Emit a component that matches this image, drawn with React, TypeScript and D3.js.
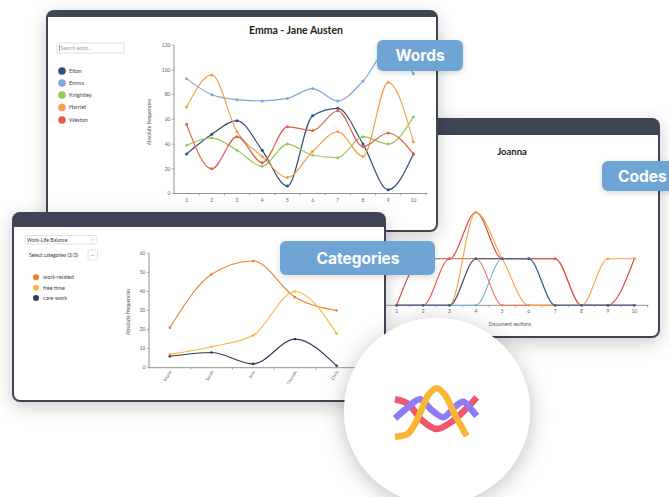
import React, { useEffect, useRef } from 'react';
import * as d3 from 'd3';

// Words window (Emma - Jane Austen)
const sections = ['1', '2', '3', '4', '5', '6', '7', '8', '9', '10'];
const wordNames = ['Elton', 'Emma', 'Knightley', 'Harriet', 'Weston'];
const wordColors = ['#2e4f80', '#7aaad9', '#9cc65b', '#f4a048', '#e0604b'];
const eltonCounts = [32, 48, 59, 35, 6, 63, 69, 40, 3, 32];
const emmaCounts = [93, 80, 76, 75, 77, 85, 75, 91, 116, 97];
const knightleyCounts = [39, 45, 35, 22, 40, 31, 29, 46, 40, 62];
const harrietCounts = [70, 96, 50, 30, 13, 34, 50, 30, 90, 42];
const westonCounts = [56, 20, 46, 25, 54, 51, 67, 38, 49, 32];
const wordTicks = [0, 20, 40, 60, 80, 100, 120];

// Categories window (Work-Life Balance)
const interviewees = ['Marie', 'Sarah', 'Jens', 'Thomas', 'Chris'];
const categoryNames = ['work-related', 'free time', 'care-work'];
const categoryColors = ['#f47c20', '#fdb43c', '#2e3e55'];
const workRelated = [21, 49, 56, 37, 30];
const freeTime = [7, 11, 17, 40, 18];
const careWork = [6, 8, 2, 15, 1];
const categoryTicks = [0, 10, 20, 30, 40, 50, 60];

// Codes window (Joanna), drawn back to front
const codeColors = ['#d9452f', '#e55a45', '#ec7a66', '#f6a23e', '#7ab0e0', '#3d5f91'];
const codeA = [0, 1, 1, 2, 1, 1, 1, 0, 0, 1];
const codeB = [0, 0, 1, 1, 1, 1, 1, 0, 0, 0];
const codeC = [0, 0, 0, 1, 0, 0, 0, 0, 0, 0];
const codeD = [0, 0, 0, 2, 1, 0, 0, 0, 1, 1];
const codeE = [0, 0, 0, 0, 1, 1, 0, 0, 0, 0];
const codeF = [0, 0, 0, 1, 1, 1, 0, 0, 0, 0];

const font = 'Lato, "Open Sans", sans-serif';
const labelFont = 'Inter, Roboto, sans-serif';
const frameColor = '#3f4456';
const tagColor = '#6ea5d5';

type G = d3.Selection<SVGGElement, unknown, null, undefined>;

function drawWindow(g: G, x: number, y: number, w: number, h: number, bar: number) {
  g.append('rect').attr('x', x).attr('y', y).attr('width', w).attr('height', h)
    .attr('rx', 8).attr('fill', frameColor).attr('filter', 'url(#winShadow)');
  g.append('rect').attr('x', x + 2).attr('y', y + bar).attr('width', w - 4).attr('height', h - bar - 2)
    .attr('rx', 6).attr('fill', '#fff');
  g.append('rect').attr('x', x + 2).attr('y', y + bar).attr('width', w - 4).attr('height', 10).attr('fill', '#fff');
}

function drawAxes(g: G, x: d3.ScaleBand<string>, y: d3.ScaleLinear<number, number>,
  ticks: number[], showY: boolean, rotate: boolean) {
  const [x0, x1] = x.range();
  const base = y(0);
  const ax = g.append('g').attr('font-family', font).attr('font-size', 5).attr('fill', '#666');
  ax.append('line').attr('x1', x0).attr('x2', x1 + 1).attr('y1', base).attr('y2', base)
    .attr('stroke', '#777').attr('stroke-width', 0.8);
  x.domain().forEach((d, i) => {
    const bx = x(d)!;
    if (i > 0) ax.append('line').attr('x1', bx).attr('x2', bx).attr('y1', base).attr('y2', base + 2)
      .attr('stroke', '#777').attr('stroke-width', 0.6);
    const cx = bx + x.bandwidth() / 2;
    if (rotate) {
      ax.append('text').attr('transform', `translate(${cx + 2},${base + 4}) rotate(-60)`)
        .attr('text-anchor', 'end').attr('font-size', 4.5).text(d);
    } else {
      ax.append('text').attr('x', cx).attr('y', base + 8).attr('text-anchor', 'middle').text(d);
    }
  });
  ax.append('line').attr('x1', x1).attr('x2', x1).attr('y1', base).attr('y2', base + 2)
    .attr('stroke', '#777').attr('stroke-width', 0.6);
  if (!showY) return;
  ax.append('line').attr('x1', x0).attr('x2', x0).attr('y1', base).attr('y2', y(ticks[ticks.length - 1]))
    .attr('stroke', '#777').attr('stroke-width', 0.8);
  ticks.forEach(t => {
    ax.append('line').attr('x1', x0 - 2).attr('x2', x0).attr('y1', y(t)).attr('y2', y(t))
      .attr('stroke', '#777').attr('stroke-width', 0.6);
    ax.append('text').attr('x', x0 - 3.5).attr('y', y(t) + 1.7).attr('text-anchor', 'end').text(t);
  });
}

function drawSeries(g: G, x: d3.ScaleBand<string>, y: d3.ScaleLinear<number, number>,
  series: number[][], colors: string[], width: number, dotR: number) {
  const half = x.bandwidth() / 2;
  const line = d3.line<number>()
    .x((_, i) => x(x.domain()[i])! + half)
    .y(v => y(v))
    .curve(d3.curveMonotoneX);
  series.forEach((vals, s) => {
    g.append('path').attr('d', line(vals)!).attr('fill', 'none')
      .attr('stroke', colors[s]).attr('stroke-width', width);
    g.selectAll(null).data(vals).join('circle')
      .attr('cx', (_, i) => x(x.domain()[i])! + half)
      .attr('cy', v => y(v)).attr('r', dotR).attr('fill', colors[s]);
  });
}

function drawLegend(g: G, names: string[], colors: string[], cx: number, ys: number[], r: number) {
  names.forEach((n, i) => {
    g.append('circle').attr('cx', cx).attr('cy', ys[i]).attr('r', r).attr('fill', colors[i]);
    g.append('text').attr('x', cx + 7).attr('y', ys[i] + 1.8).attr('font-family', font)
      .attr('font-size', 5.5).attr('fill', '#444').text(n);
  });
}

function drawTag(g: G, x: number, y: number, w: number, h: number, label: string, tx: number, anchor: string) {
  g.append('rect').attr('x', x).attr('y', y).attr('width', w).attr('height', h).attr('rx', 6)
    .attr('fill', tagColor).attr('filter', 'url(#tagShadow)');
  g.append('text').attr('x', tx).attr('y', y + h / 2 + 5.5).attr('text-anchor', anchor)
    .attr('font-family', labelFont).attr('font-weight', 700).attr('font-size', 15.5)
    .attr('fill', '#fff').text(label);
}

const App: React.FC = () => {
  const ref = useRef<SVGSVGElement>(null);

  useEffect(() => {
    if (!ref.current) return;
    const svg = d3.select(ref.current);
    svg.selectAll('*').remove();

    const defs = svg.append('defs');
    defs.append('filter').attr('id', 'winShadow').attr('x', '-20%').attr('y', '-20%')
      .attr('width', '140%').attr('height', '150%')
      .append('feDropShadow').attr('dx', 0).attr('dy', 5).attr('stdDeviation', 9)
      .attr('flood-color', '#000').attr('flood-opacity', 0.2);
    defs.append('filter').attr('id', 'circleShadow').attr('x', '-30%').attr('y', '-30%')
      .attr('width', '160%').attr('height', '160%')
      .append('feDropShadow').attr('dx', 0).attr('dy', 4).attr('stdDeviation', 11)
      .attr('flood-color', '#000').attr('flood-opacity', 0.25);
    defs.append('filter').attr('id', 'tagShadow').attr('x', '-20%').attr('y', '-40%')
      .attr('width', '140%').attr('height', '180%')
      .append('feDropShadow').attr('dx', 0).attr('dy', 2).attr('stdDeviation', 3)
      .attr('flood-color', '#000').attr('flood-opacity', 0.15);

    const root = svg.append('g') as unknown as G;
    root.append('rect').attr('width', 669).attr('height', 497).attr('fill', '#fff');

    // ---- Codes window (Joanna), at the back
    const codes = root.append('g') as unknown as G;
    drawWindow(codes, 330, 118, 330, 220, 17);
    codes.append('text').attr('x', 512).attr('y', 155).attr('text-anchor', 'middle')
      .attr('font-family', font).attr('font-weight', 700).attr('font-size', 9.5).attr('fill', '#222').text('Joanna');
    const xJ = d3.scaleBand<string>().domain(sections).range([383.5, 647.5]);
    const yJ = d3.scaleLinear().domain([0, 3]).range([305.3, 165.8]);
    drawAxes(codes, xJ, yJ, [0, 1, 2, 3], false, false);
    drawSeries(codes, xJ, yJ, [codeA, codeB, codeC, codeD, codeE, codeF], codeColors, 1.1, 1.3);
    codes.append('text').attr('x', 510).attr('y', 325.5).attr('text-anchor', 'middle')
      .attr('font-family', font).attr('font-size', 5).attr('fill', '#555').text('Document sections');

    // ---- Words window (Emma)
    const words = root.append('g') as unknown as G;
    drawWindow(words, 46, 10, 392, 222, 7);
    words.append('text').attr('x', 296).attr('y', 33.5).attr('text-anchor', 'middle')
      .attr('font-family', font).attr('font-weight', 700).attr('font-size', 10.5).attr('fill', '#222')
      .text('Emma - Jane Austen');
    words.append('rect').attr('x', 57).attr('y', 43).attr('width', 67).attr('height', 10).attr('rx', 1.5)
      .attr('fill', '#fff').attr('stroke', '#d4d4d4').attr('stroke-width', 0.7);
    words.append('line').attr('x1', 59.5).attr('x2', 59.5).attr('y1', 45).attr('y2', 51)
      .attr('stroke', '#333').attr('stroke-width', 0.5);
    words.append('text').attr('x', 60.5).attr('y', 50).attr('font-family', font).attr('font-size', 5)
      .attr('fill', '#999').text('Search word...');
    drawLegend(words, wordNames, wordColors, 62, [71, 83, 95, 107.5, 120], 3.8);
    const xW = d3.scaleBand<string>().domain(sections).range([174, 426]);
    const yW = d3.scaleLinear().domain([0, 120]).range([193.5, 45.3]);
    drawAxes(words, xW, yW, wordTicks, true, false);
    words.append('text').attr('transform', 'translate(151,122) rotate(-90)').attr('text-anchor', 'middle')
      .attr('font-family', font).attr('font-size', 5).attr('fill', '#555').text('Absolute frequencies');
    drawSeries(words, xW, yW, [eltonCounts, emmaCounts, knightleyCounts, harrietCounts, westonCounts],
      wordColors, 1.2, 1.5);

    // ---- Categories window
    const cats = root.append('g') as unknown as G;
    drawWindow(cats, 12, 212, 374, 190, 15);
    cats.append('rect').attr('x', 25).attr('y', 235.5).attr('width', 72).attr('height', 8.5).attr('rx', 1.5)
      .attr('fill', '#fff').attr('stroke', '#d4d4d4').attr('stroke-width', 0.7);
    cats.append('text').attr('x', 27).attr('y', 241.5).attr('font-family', font).attr('font-size', 5)
      .attr('fill', '#333').text('Work-Life Balance');
    cats.append('path').attr('d', 'M91.5,239 L93,240.6 L94.5,239').attr('fill', 'none')
      .attr('stroke', '#999').attr('stroke-width', 0.5);
    cats.append('text').attr('x', 29).attr('y', 257).attr('font-family', font).attr('font-size', 5)
      .attr('fill', '#333').text('Select categories (3/3)');
    cats.append('rect').attr('x', 88).attr('y', 250).attr('width', 9.5).attr('height', 10).attr('rx', 1.5)
      .attr('fill', '#fff').attr('stroke', '#d4d4d4').attr('stroke-width', 0.7);
    cats.append('text').attr('x', 92.7).attr('y', 256).attr('text-anchor', 'middle').attr('font-family', font)
      .attr('font-size', 5).attr('fill', '#555').text('...');
    drawLegend(cats, categoryNames, categoryColors, 36, [277.3, 287.7, 298], 3);
    const xC = d3.scaleBand<string>().domain(interviewees).range([149, 357.5]);
    const yC = d3.scaleLinear().domain([0, 60]).range([367.7, 253.3]);
    drawAxes(cats, xC, yC, categoryTicks, true, true);
    cats.append('text').attr('transform', 'translate(130,311.7) rotate(-90)').attr('text-anchor', 'middle')
      .attr('font-family', font).attr('font-size', 5).attr('fill', '#555').text('Absolute frequencies');
    drawSeries(cats, xC, yC, [workRelated, freeTime, careWork], categoryColors, 1.1, 1.3);

    // ---- Logo circle
    const logo = root.append('g') as unknown as G;
    logo.append('circle').attr('cx', 437).attr('cy', 411).attr('r', 93).attr('fill', '#fff')
      .attr('filter', 'url(#circleShadow)');
    const logoLine = d3.line().curve(d3.curveCatmullRom);
    const logoRed: [number, number][] = [[395, 399.3], [408.3, 404], [421.7, 420], [436.7, 429], [451.7, 421.7], [466.7, 408.3], [476.7, 397.3]];
    const logoPurple: [number, number][] = [[395, 418.3], [406.7, 408.3], [420, 399.3], [431.7, 410], [443.3, 417.3], [455, 406.7], [463.3, 401.7], [471.7, 410], [476.7, 416]];
    const logoYellow: [number, number][] = [[395, 436.7], [408.3, 433.3], [420, 413.3], [428.3, 395], [436.7, 388.3], [445, 395], [455, 415], [466.7, 436]];
    [[logoRed, '#f0566e'], [logoPurple, '#8c7cf7'], [logoYellow, '#fbb534']].forEach(([pts, c]) => {
      logo.append('path').attr('d', logoLine(pts as [number, number][])!).attr('fill', 'none')
        .attr('stroke', c as string).attr('stroke-width', 6.5);
    });

    // ---- Tags
    const tags = root.append('g') as unknown as G;
    drawTag(tags, 377, 40, 86, 31, 'Words', 420, 'middle');
    drawTag(tags, 280, 241, 155, 34, 'Categories', 358, 'middle');
    drawTag(tags, 602, 161, 90, 30, 'Codes', 618, 'start');
  }, []);

  return (
    <svg ref={ref} width={669} height={497}
      style={{ position: 'absolute', left: 0, top: 0, display: 'block' }} />
  );
};

export default App;
